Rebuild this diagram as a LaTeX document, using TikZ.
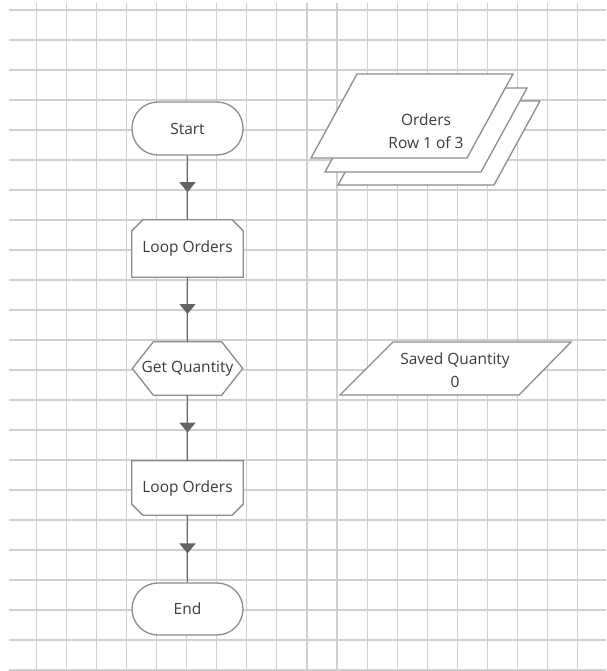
\documentclass[tikz,border=0pt]{standalone}
\usepackage{fontspec}
\setmainfont{Open Sans}
\usetikzlibrary{arrows.meta,decorations.markings}

\definecolor{grille}{RGB}{208,208,208}
\definecolor{trait}{RGB}{140,140,140}
\definecolor{fleche}{RGB}{100,100,100}
\definecolor{texte}{RGB}{60,60,60}

\pgfdeclarelayer{fond}
\pgfdeclarelayer{formes}
\pgfsetlayers{fond,formes,main}

\tikzset{
  bloc/.style={minimum width=111pt, minimum height=55pt, inner sep=0pt,
    text=texte, font=\fontsize{15.5}{23}\selectfont, align=center},
  terminal/.style={bloc, draw=trait, fill=white, line width=1.3pt,
    rounded corners=26pt, minimum height=53pt},
  contour/.style={draw=trait, fill=white, line width=1.3pt},
  lien/.style={draw=fleche, line width=1.3pt, postaction={decorate},
    decoration={markings, mark=at position 0.57 with {\arrow{Triangle[width=16pt,length=10pt]}}}}
}

\begin{document}
\begin{tikzpicture}[x=1pt, y=-1pt]
  \useasboundingbox (0,0) rectangle (606,671);

  % La grille
  \begin{pgfonlayer}{fond}
    \foreach \i in {0,...,18}
      \draw[grille, line width=1.1pt] ({36.5+30.05*\i},3) -- ({36.5+30.05*\i},671);
    \foreach \j in {0,...,22}
      \draw[grille, line width=1.1pt] (9,{10+30*\j}) -- (606,{10+30*\j});
  \end{pgfonlayer}

  % Les blocs
  \node[terminal] (debut) at (187.5,128.5) {Start};
  \node[bloc, minimum height=57pt] (boucle1) at (187.5,248.5) {Loop Orders};
  \node[bloc, minimum width=110pt, minimum height=53pt] (qte) at (187.5,368.5) {Get Quantity};
  \node[bloc, minimum height=54pt] (boucle2) at (187.5,488) {Loop Orders};
  \node[terminal, minimum height=52pt] (fin) at (187.5,609) {End};

  % Les contours
  \begin{pgfonlayer}{formes}
    \draw[contour] ([yshift=-11pt]boucle1.north west) -- ([xshift=11pt]boucle1.north west)
      -- ([xshift=-11pt]boucle1.north east) -- ([yshift=-11pt]boucle1.north east)
      -- (boucle1.south east) -- (boucle1.south west) -- cycle;
    \draw[contour] ([xshift=21pt]qte.north west) -- ([xshift=-21pt]qte.north east)
      -- (qte.east) -- ([xshift=-21pt]qte.south east)
      -- ([xshift=21pt]qte.south west) -- (qte.west) -- cycle;
    \draw[contour] (boucle2.north west) -- (boucle2.north east)
      -- ([yshift=11pt]boucle2.south east) -- ([xshift=-11pt]boucle2.south east)
      -- ([xshift=11pt]boucle2.south west) -- ([yshift=11pt]boucle2.south west) -- cycle;
  \end{pgfonlayer}

  % Les fleches
  \draw[lien] (debut) -- (boucle1);
  \draw[lien] (boucle1) -- (qte);
  \draw[lien] (qte) -- (boucle2);
  \draw[lien] (boucle2) -- (fin);

  % Les donnees
  \foreach \d in {27,14,0}
    \draw[contour, shift={(\d,\d)}] (311,158) -- (467,158) -- (513,74) -- (357,74) -- cycle;
  \draw[contour] (340,395) -- (519,395) -- (571,342) -- (393,342) -- cycle;

  \node[bloc, minimum width=0pt, minimum height=0pt] (commandes) at (426,131) {Orders\\Row 1 of 3};
  \node[bloc, minimum width=0pt, minimum height=0pt] (sauve) at (455,370) {Saved Quantity\\0};

\end{tikzpicture}
\end{document}
